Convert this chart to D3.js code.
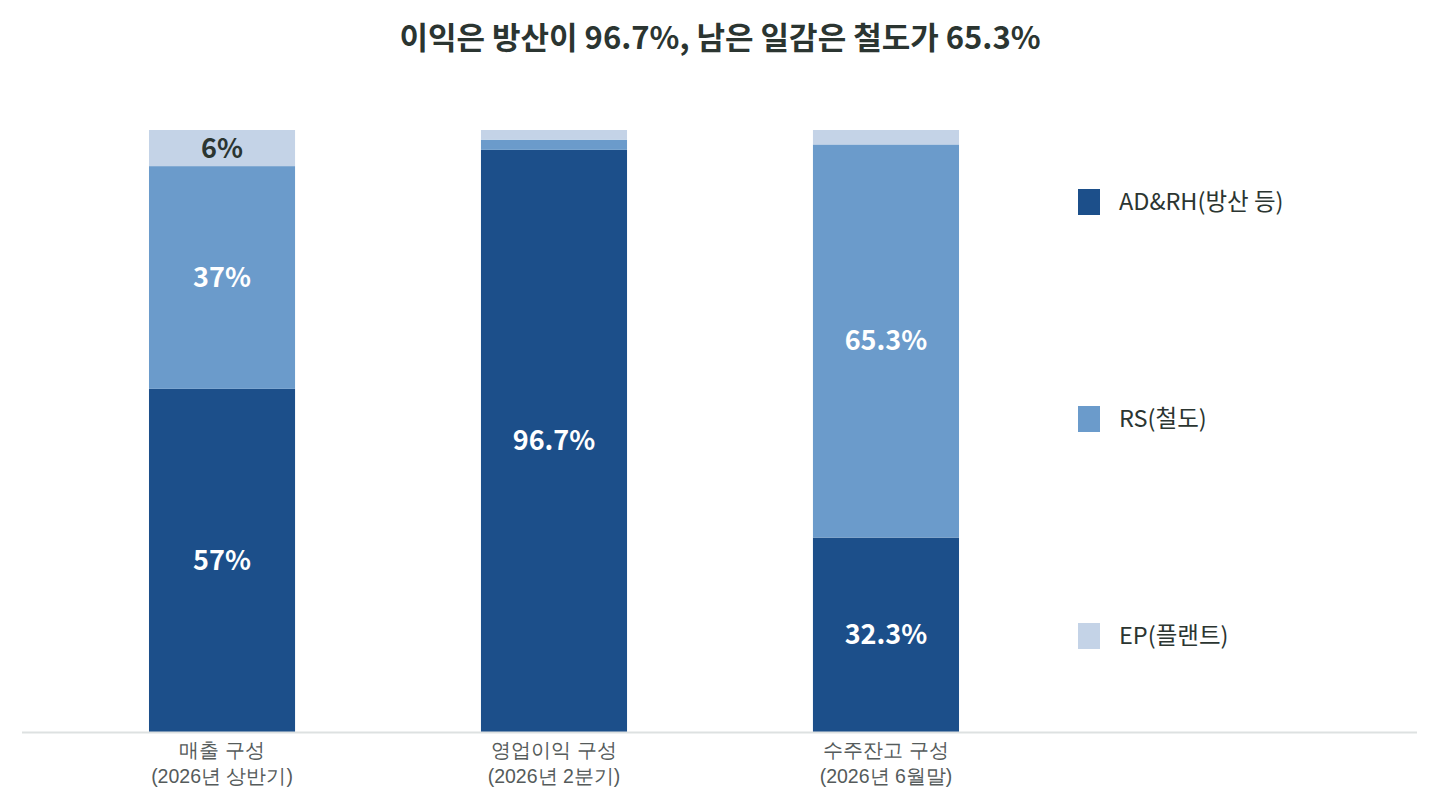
<!DOCTYPE html>
<html>
<head>
<meta charset="utf-8">
<script src="https://cdn.jsdelivr.net/npm/d3@7"></script>
<style>
  body { margin: 0; background: #fff; }
  svg { font-family: "Noto Sans CJK KR", "Noto Sans", sans-serif; }
</style>
</head>
<body>
<div id="chart"></div>
<script>
// Data
const categories = ["매출 구성|(2026년 상반기)", "영업이익 구성|(2026년 2분기)", "수주잔고 구성|(2026년 6월말)"];
const seriesNames = ["AD&RH(방산 등)", "RS(철도)", "EP(플랜트)"];
const adrhValues = [57, 96.7, 32.3];
const rsValues = [37, 1.7, 65.3];
const epValues = [6, 1.6, 2.4];
const valueLabels = [
  ["57%", "96.7%", "32.3%"],
  ["37%", "", "65.3%"],
  ["6%", "", ""],
];
const colors = ["#1c4f8a", "#6b9bcb", "#c4d3e7"];

const dimensions = { width: 1440, height: 810 };

const svg = d3
  .select("#chart")
  .append("svg")
  .attr("width", dimensions.width)
  .attr("height", dimensions.height);

// Title
svg
  .append("text")
  .attr("x", 720)
  .attr("y", 49)
  .attr("text-anchor", "middle")
  .attr("font-size", 31)
  .attr("font-weight", 700)
  .attr("fill", "#2b3531")
  .text("이익은 방산이 96.7%, 남은 일감은 철도가 65.3%");

// Build rows for the stack
const table = categories.map((c, i) => ({
  category: c,
  [seriesNames[0]]: adrhValues[i],
  [seriesNames[1]]: rsValues[i],
  [seriesNames[2]]: epValues[i],
}));
const stacked = d3.stack().keys(seriesNames)(table);

// Scales
const xScale = d3
  .scaleBand()
  .domain(categories)
  .range([22, 1086])
  .paddingInner(0.56)
  .paddingOuter(0.3825);

const yScale = d3.scaleLinear().domain([0, 100]).range([732, 130]);

// Bars
const layers = svg
  .append("g")
  .selectAll("g")
  .data(stacked)
  .join("g")
  .attr("fill", (d, i) => colors[i]);

layers
  .selectAll("rect")
  .data((d) => d)
  .join("rect")
  .attr("x", (d) => xScale(d.data.category))
  .attr("y", (d) => yScale(d[1]))
  .attr("width", xScale.bandwidth())
  .attr("height", (d) => yScale(d[0]) - yScale(d[1]));

// Value labels
layers.each(function (layer, li) {
  d3.select(this)
    .selectAll("text")
    .data(layer)
    .join("text")
    .attr("x", (d) => xScale(d.data.category) + xScale.bandwidth() / 2)
    .attr("y", (d) => (yScale(d[0]) + yScale(d[1])) / 2)
    .attr("dy", "0.35em")
    .attr("text-anchor", "middle")
    .attr("font-size", 27)
    .attr("font-weight", 700)
    .attr("fill", li === 2 ? "#2b3531" : "#ffffff")
    .text((d, i) => valueLabels[li][i]);
});

// Axis baseline
svg
  .append("line")
  .attr("x1", 22)
  .attr("x2", 1417)
  .attr("y1", 732.5)
  .attr("y2", 732.5)
  .attr("stroke", "#dde1e1")
  .attr("stroke-width", 2);

// Category labels
const xAxis = d3.axisBottom(xScale).tickSize(0).tickFormat("");
const xAxisG = svg
  .append("g")
  .attr("transform", "translate(0, 733)")
  .call(xAxis);
xAxisG.select(".domain").remove();
xAxisG
  .selectAll(".tick")
  .append("text")
  .attr("text-anchor", "middle")
  .attr("font-size", 19.5)
  .attr("fill", "#555b5b")
  .selectAll("tspan")
  .data((d) => d.split("|"))
  .join("tspan")
  .attr("x", 0)
  .attr("y", (d, i) => 24 + i * 26)
  .text((d) => d);

// Legend
const legendY = d3
  .scalePoint()
  .domain(seriesNames)
  .range([202, 636]);

const legend = svg
  .append("g")
  .selectAll("g")
  .data(seriesNames)
  .join("g")
  .attr("transform", (d) => `translate(1078, ${legendY(d)})`);

legend
  .append("rect")
  .attr("x", 0)
  .attr("y", -13)
  .attr("width", 22)
  .attr("height", 26)
  .attr("fill", (d, i) => colors[i]);

legend
  .append("text")
  .attr("x", 41)
  .attr("y", 0)
  .attr("dy", "0.35em")
  .attr("font-size", 23.5)
  .attr("fill", "#2b3531")
  .text((d) => d);
</script>
</body>
</html>
